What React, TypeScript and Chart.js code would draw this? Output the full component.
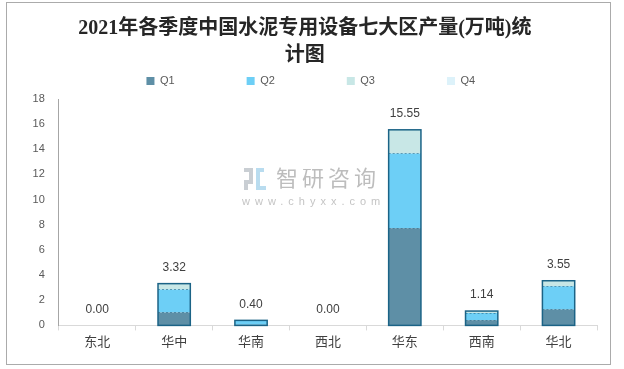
import React, { useEffect, useRef } from "react";
import { Chart, registerables } from "chart.js";

Chart.register(...registerables);

const categories = ["东北", "华中", "华南", "西北", "华东", "西南", "华北"];
const seriesNames = ["Q1", "Q2", "Q3", "Q4"];
const q1 = [0, 1.03, 0.05, 0, 7.72, 0.4, 1.27];
const q2 = [0, 1.83, 0.35, 0, 5.95, 0.58, 1.85];
const q3 = [0, 0.46, 0, 0, 1.86, 0.16, 0.43];
const q4 = [0, 0, 0, 0, 0.02, 0, 0];
const seriesColors = ["#5E8FA6", "#6DCFF6", "#C8E7E6", "#DDF2FA"];
const titleLines = ["2021年各季度中国水泥专用设备七大区产量(万吨)统", "计图"];
const yMin = 0;
const yMax = 18;
const yStep = 2;
const watermarkMain = "智研咨询";
const watermarkSub = "www.chyxx.com";

const SANS = "'Liberation Sans', 'Noto Sans CJK SC', sans-serif";
const SERIF = "'Liberation Serif', 'DejaVu Serif', 'Noto Sans CJK SC', serif";

const framePlugin = {
  id: "frame",
  beforeLayout(chart: any) {
    const lg = chart.legend;
    if (lg && !lg._patched) {
      const orig = lg.fit.bind(lg);
      lg.fit = function () {
        orig();
        this.height += 2.5;
      };
      lg._patched = true;
    }
  },
  afterLayout(chart: any) {
    const t = chart.titleBlock;
    if (t) {
      t.left -= 3;
      t.right -= 3;
    }
    const lg = chart.legend;
    if (lg) {
      lg.left += 3;
      lg.right += 3;
    }
  },
  beforeDraw(chart: any) {
    const ctx = chart.ctx;
    ctx.save();
    ctx.fillStyle = "#ffffff";
    ctx.fillRect(0, 0, chart.width, chart.height);
    ctx.strokeStyle = "#ababab";
    ctx.lineWidth = 1;
    ctx.strokeRect(6.5, 2.5, 604, 362);
    ctx.restore();
  },
  beforeDatasetsDraw(chart: any) {
    const ctx = chart.ctx;
    ctx.save();
    // logo
    ctx.fillStyle = "#c9ced3";
    ctx.fillRect(244, 168, 9, 4);
    ctx.fillRect(249, 172, 4, 8);
    ctx.fillRect(244, 180, 9, 4);
    ctx.fillRect(244, 184, 4, 6);
    ctx.fillStyle = "#b9dcef";
    ctx.fillRect(256, 168, 8, 4);
    ctx.fillRect(256, 172, 4, 18);
    ctx.fillRect(260, 186, 6, 4);
    ctx.fillStyle = "#bdbdbd";
    ctx.font = "22px 'Noto Sans CJK SC', sans-serif";
    ctx.textBaseline = "middle";
    ctx.textAlign = "left";
    (ctx as any).letterSpacing = "4px";
    ctx.fillText(watermarkMain, 276, 178);
    ctx.font = "11px " + SANS;
    (ctx as any).letterSpacing = "5px";
    ctx.fillStyle = "#c4c4c4";
    ctx.fillText(watermarkSub, 242, 202);
    (ctx as any).letterSpacing = "0px";
    ctx.restore();
  },
  afterDatasetsDraw(chart: any) {
    const ctx = chart.ctx;
    const yScale = chart.scales.y;
    const metas = chart.data.datasets.map((_: any, i: number) => chart.getDatasetMeta(i));
    ctx.save();
    categories.forEach((_, i) => {
      const total = chart.data.datasets.reduce((s: number, d: any) => s + d.data[i], 0);
      const base = yScale.getPixelForValue(0);
      const topPx = yScale.getPixelForValue(total);
      const el = metas[0].data[i];
      const p = el.getProps(["x", "width"], true);
      if (total > 0) {
        ctx.strokeStyle = "rgba(30,95,125,0.55)";
        ctx.lineWidth = 1;
        ctx.setLineDash([2, 2]);
        let cum = 0;
        for (let d = 0; d < chart.data.datasets.length - 1; d++) {
          cum += chart.data.datasets[d].data[i];
          const v = chart.data.datasets[d].data[i];
          if (v > 0 && cum < total - 0.05) {
            const yy = Math.round(yScale.getPixelForValue(cum)) + 0.5;
            ctx.beginPath();
            ctx.moveTo(p.x - p.width / 2, yy);
            ctx.lineTo(p.x + p.width / 2, yy);
            ctx.stroke();
          }
        }
        ctx.setLineDash([]);
        ctx.strokeStyle = "#1B6386";
        ctx.lineWidth = 1.5;
        ctx.strokeRect(p.x - p.width / 2, topPx, p.width, base - topPx);
      }
      ctx.fillStyle = "#404040";
      ctx.font = "12px " + SANS;
      ctx.textAlign = "center";
      ctx.textBaseline = "middle";
      ctx.fillText(total.toFixed(2), p.x, topPx - 16);
    });
    ctx.restore();
  },
};

export default function App() {
  const ref = useRef<HTMLCanvasElement | null>(null);
  useEffect(() => {
    document.body.style.margin = "0";
    const canvas = ref.current;
    if (!canvas) return;
    const seriesData = [q1, q2, q3, q4];
    const chart = new Chart(canvas, {
      type: "bar",
      data: {
        labels: categories,
        datasets: seriesNames.map((name, k) => ({
          label: name,
          data: seriesData[k],
          backgroundColor: seriesColors[k],
          borderWidth: 0,
          barPercentage: 0.42,
          categoryPercentage: 1,
          stack: "s",
        })),
      },
      options: {
        animation: false,
        responsive: false,
        devicePixelRatio: 1,
        layout: { padding: { left: 18.6, right: 27, top: 0, bottom: 15 } },
        plugins: {
          title: {
            display: true,
            text: titleLines,
            color: "#262626",
            font: { family: SERIF, size: 20, weight: "bold", lineHeight: 1.35 },
            padding: { top: 15, bottom: -65.5 },
          },
          legend: {
            display: true,
            position: "top",
            labels: {
              boxWidth: 8,
              boxHeight: 8,
              padding: 72,
              color: "#595959",
              font: { family: SANS, size: 11 },
            },
          },
          tooltip: { enabled: false },
        },
        scales: {
          x: {
            stacked: true,
            grid: {
              display: true,
              drawOnChartArea: false,
              offset: true,
              tickLength: 5,
              color: "#d9d9d9",
            },
            border: { display: true, color: "#d9d9d9" },
            ticks: {
              color: "#404040",
              padding: 4,
              font: { family: SANS, size: 13 },
            },
          },
          y: {
            stacked: true,
            min: yMin,
            max: yMax,
            grid: { display: false, drawTicks: false },
            border: { display: true, color: "#a6a6a6" },
            ticks: {
              stepSize: yStep,
              padding: 14,
              color: "#595959",
              font: { family: SANS, size: 11 },
            },
          },
        },
      },
      plugins: [framePlugin],
    });
    return () => chart.destroy();
  }, []);
  return (
    <canvas
      ref={ref}
      width={624}
      height={369}
      style={{ display: "block", width: 624, height: 369 }}
    />
  );
}
